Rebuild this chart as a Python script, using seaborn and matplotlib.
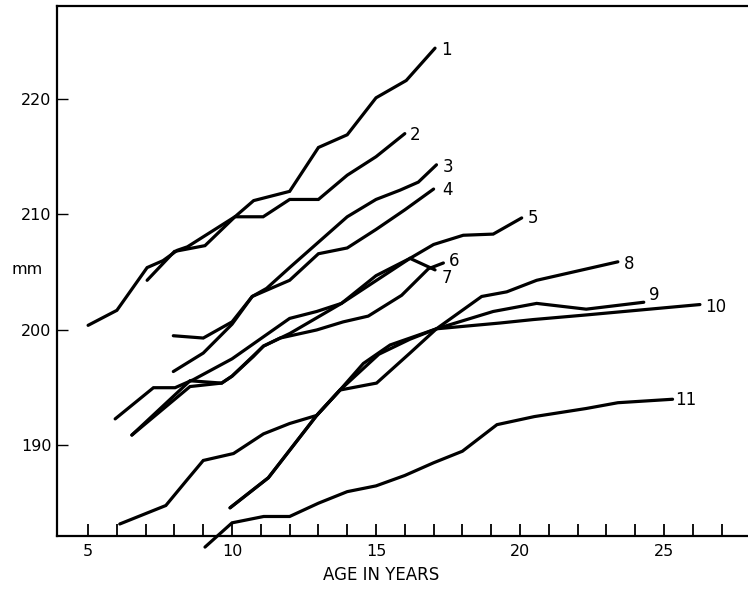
import numpy as np
import pandas as pd
import matplotlib
matplotlib.use("Agg")
import matplotlib.pyplot as plt
import seaborn as sns

# ---- data (age in years, head measure in mm) ----
age_1 = [5.0, 6.0, 7.05, 7.6, 8.1, 8.45, 10.1, 10.75, 12.0, 13.0, 14.0, 15.0, 16.05, 17.05]
mm_1 = [200.4, 201.7, 205.4, 206.0, 206.9, 207.2, 209.8, 211.2, 212.0, 215.8, 216.9, 220.1, 221.6, 224.4]

age_2 = [7.05, 8.0, 9.06, 10.1, 11.08, 12.0, 13.0, 14.0, 15.0, 16.0]
mm_2 = [204.3, 206.8, 207.3, 209.8, 209.8, 211.3, 211.3, 213.4, 215.0, 217.0]

age_3 = [7.96, 9.0, 10.0, 10.7, 11.2, 12.0, 13.0, 14.0, 15.0, 15.83, 16.47, 17.1]
mm_3 = [199.5, 199.3, 200.7, 202.9, 203.6, 205.4, 207.6, 209.8, 211.3, 212.1, 212.8, 214.3]

age_4 = [7.96, 9.0, 10.0, 10.7, 12.0, 13.0, 14.0, 15.0, 16.0, 17.0]
mm_4 = [196.4, 198.0, 200.5, 202.9, 204.3, 206.6, 207.1, 208.7, 210.4, 212.2]

age_5 = [5.94, 7.27, 8.02, 8.66, 10.0, 12.0, 12.94, 13.8, 15.0, 16.18, 17.0, 18.03, 19.07, 20.06]
mm_5 = [192.3, 195.0, 195.0, 195.7, 197.5, 201.0, 201.6, 202.3, 204.7, 206.2, 207.4, 208.2, 208.3, 209.7]

age_6 = [6.52, 8.54, 9.64, 10.0, 10.74, 11.09, 11.67, 12.94, 13.86, 14.73, 15.89, 16.82, 17.34]
mm_6 = [190.9, 195.1, 195.4, 196.0, 197.7, 198.6, 199.3, 200.0, 200.7, 201.2, 203.0, 205.3, 205.8]

age_7 = [6.52, 8.54, 9.64, 10.0, 11.09, 12.01, 13.8, 16.18, 17.05]
mm_7 = [190.9, 195.6, 195.4, 196.0, 198.6, 199.7, 202.3, 206.2, 205.2]

age_8 = [9.93, 11.26, 12.94, 13.75, 14.56, 15.49, 16.18, 17.1, 18.67, 19.54, 20.58, 23.4]
mm_8 = [184.6, 187.2, 192.6, 194.8, 197.1, 198.7, 199.3, 200.1, 202.9, 203.3, 204.3, 205.9]

age_9 = [6.1, 7.7, 8.43, 9.0, 10.05, 11.09, 12.0, 12.94, 13.75, 15.02, 16.18, 17.1, 19.07, 20.58, 22.3, 24.3]
mm_9 = [183.2, 184.8, 187.0, 188.7, 189.3, 191.0, 191.9, 192.6, 194.8, 195.4, 198.0, 200.1, 201.6, 202.3, 201.8, 202.4]

age_10 = [9.93, 11.26, 12.94, 13.75, 15.1, 16.18, 17.1, 19.3, 20.46, 22.3, 26.25]
mm_10 = [184.6, 187.2, 192.6, 194.8, 197.9, 199.2, 200.1, 200.6, 200.9, 201.3, 202.2]

age_11 = [9.06, 10.0, 11.1, 12.0, 13.0, 14.0, 15.0, 16.0, 17.0, 18.0, 19.2, 20.5, 22.3, 23.4, 25.3]
mm_11 = [181.2, 183.3, 183.85, 183.85, 185.0, 186.0, 186.5, 187.4, 188.5, 189.5, 191.8, 192.5, 193.2, 193.7, 194.0]

subjects = ["1", "2", "3", "4", "5", "6", "7", "8", "9", "10", "11"]
ages = [age_1, age_2, age_3, age_4, age_5, age_6, age_7, age_8, age_9, age_10, age_11]
values = [mm_1, mm_2, mm_3, mm_4, mm_5, mm_6, mm_7, mm_8, mm_9, mm_10, mm_11]

# label anchor (data coords) for each curve number
label_x = [17.45, 16.35, 17.5, 17.5, 20.45, 17.7, 17.45, 23.8, 24.65, 26.8, 25.75]
label_y = [224.2, 216.9, 214.1, 212.1, 209.7, 206.0, 204.5, 205.75, 203.0, 202.0, 193.9]

x_ticks = list(range(5, 28))
x_ticklabels = [str(t) if t % 5 == 0 else "" for t in x_ticks]
y_ticks = [190, 200, 210, 220]

# ---- build long table ----
rows = []
for s, a, v in zip(subjects, ages, values):
    for i, (xx, yy) in enumerate(zip(a, v)):
        rows.append({"subject": s, "age": xx, "mm": yy, "order": i})
df = pd.DataFrame(rows)

sns.set_theme(style="white")
plt.rcParams["font.family"] = ["DejaVu Sans"]
plt.rcParams["text.color"] = "black"
plt.rcParams["axes.labelcolor"] = "black"

W, H = 748, 590
fig = plt.figure(figsize=(W / 100, H / 100), dpi=100)
ax = fig.add_axes([57 / W, (H - 536) / H, (W - 57) / W, (536 - 6) / H])

sns.lineplot(data=df, x="age", y="mm", units="subject", estimator=None,
             sort=False, color="black", linewidth=2.3, ax=ax, legend=False)
for ln in ax.lines:
    ln.set_clip_on(False)
    ln.set_solid_joinstyle("miter")

ax.set_xlim(3.92, 27.92)
ax.set_ylim(182.16, 228.05)

ax.set_xticks(x_ticks)
ax.set_xticklabels(x_ticklabels, fontsize=11.5)
ax.set_yticks(y_ticks)
ax.set_yticklabels([str(t) for t in y_ticks], fontsize=11.5)
ax.tick_params(axis="x", direction="in", length=9, width=1.3, pad=6,
               colors="black", labelcolor="black")
ax.tick_params(axis="y", direction="in", length=8, width=1.0, pad=4,
               colors="black", labelcolor="black")
ax.tick_params(bottom=True, left=True)

for side in ["left", "bottom", "top"]:
    ax.spines[side].set_visible(True)
    ax.spines[side].set_color("black")
    ax.spines[side].set_linewidth(1.6)
ax.spines["right"].set_visible(False)

ax.set_xlabel("")
ax.set_ylabel("")

for s, lx, ly in zip(subjects, label_x, label_y):
    ax.text(lx, ly, s, ha="center", va="center", fontsize=12, color="black")

fig.text(27 / W, 1 - 270 / H, "mm", ha="center", va="center", fontsize=11.5, color="black")
fig.text(381 / W, 1 - 575 / H, "AGE IN YEARS", ha="center", va="center", fontsize=12, color="black")

fig.savefig("out.png", dpi=100, facecolor="white")
